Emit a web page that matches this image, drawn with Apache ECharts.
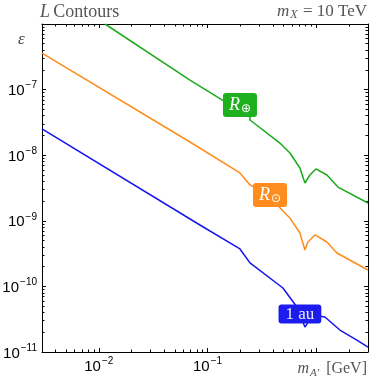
<!DOCTYPE html>
<html>
<head>
<meta charset="utf-8">
<script src="https://cdn.jsdelivr.net/npm/echarts@6/dist/echarts.min.js"></script>
<style>
html, body { margin: 0; padding: 0; background: #fff; }
#chart { width: 374px; height: 382px; }
</style>
</head>
<body>
<div id="chart"></div>
<script>
// R_earth contour
var earthX = [0.0114, 0.069, 0.246, 0.246, 0.464, 0.574, 0.709, 0.788, 0.876, 0.995, 1.256, 1.586, 3.0];
var earthY = [1e-6, 1.40e-7, 3.82e-8, 3.44e-8, 1.53e-8, 1.08e-8, 6.38e-9, 3.77e-9, 4.99e-9, 6.17e-9, 4.99e-9, 3.27e-9, 1.87e-9];
// R_sun contour
var sunX = [0.003, 0.069, 0.199, 0.246, 0.376, 0.484, 0.574, 0.709, 0.788, 0.840, 0.974, 1.256, 1.552, 3.0];
var sunY = [3.61e-7, 1.59e-8, 5.36e-9, 3.52e-9, 2.39e-9, 1.46e-9, 1.10e-9, 6.52e-10, 3.59e-10, 4.75e-10, 6.08e-10, 4.75e-10, 3.23e-10, 1.78e-10];
// 1 au contour
var auX = [0.003, 0.0852, 0.199, 0.246, 0.4945, 0.665, 0.788, 0.934, 1.204, 1.654, 2.371, 3.0];
var auY = [2.51e-8, 8.63e-10, 3.72e-10, 2.28e-10, 9.46e-11, 4.85e-11, 2.40e-11, 3.66e-11, 3.42e-11, 2.16e-11, 1.52e-11, 1.19e-11];

// tag labels on the curves
var tagText = ['{r|R}{s|⊕}', '{r|R}{s|⊙}', '{t|1 au}'];
var tagX = [0.199, 0.376, 0.709];
var tagY = [5.8e-8, 2.47e-9, 3.8e-11];

// tick labels
var xLabelVals = [0.01, 0.1];
var yLabelVals = [1e-11, 1e-10, 1e-9, 1e-8, 1e-7];
var xDecades = [0.001, 0.01, 0.1, 1];
var yDecades = [1e-12, 1e-11, 1e-10, 1e-9, 1e-8, 1e-7];

var colors = ['#1aaa1a', '#ff8c1a', '#1515f0'];
var tagColors = ['#1fb01f', '#ff8c1f', '#1c1cee'];

function minorTicks(decades, lo, hi) {
    var out = [];
    decades.forEach(function (d) {
        for (var k = 2; k <= 9; k++) {
            var v = k * d;
            if (v > lo * 1.0001 && v < hi * 0.9999) out.push(v);
        }
    });
    return out;
}
function majorTicks(decades, lo, hi) {
    return decades.filter(function (d) { return d > lo * 1.0001 && d < hi * 0.9999; });
}
function pairs(xs, ys) {
    return xs.map(function (x, i) { return [x, ys[i]]; });
}
function powLabel(v) {
    var e = Math.round(Math.log10(v));
    return '{b|10}{s|\u2212' + (-e) + '}';
}

var xMin = 0.003, xMax = 3, yMin = 1e-11, yMax = 1e-6;
var labelRich = {
    b: { fontFamily: 'Liberation Sans', fontSize: 15, color: '#000', lineHeight: 18, verticalAlign: 'bottom' },
    s: { fontFamily: 'Liberation Sans', fontSize: 10, color: '#000', lineHeight: 18, verticalAlign: 'top', padding: [0, 0, 0, 1] }
};

function makeAxis(kind, pos, major, showLine, showLabel) {
    var isX = kind === 'x';
    var lo = isX ? xMin : yMin, hi = isX ? xMax : yMax;
    var dec = isX ? xDecades : yDecades;
    return {
        type: 'log',
        logBase: 10,
        min: lo,
        max: hi,
        position: pos,
        axisLine: { show: showLine, lineStyle: { color: '#000', width: 1 } },
        axisTick: {
            show: true,
            inside: true,
            length: major ? 4 : 2.5,
            lineStyle: { color: '#000', width: 1 },
            customValues: major ? majorTicks(dec, lo, hi) : minorTicks(dec, lo, hi)
        },
        axisLabel: {
            show: showLabel,
            customValues: isX ? xLabelVals : yLabelVals,
            formatter: powLabel,
            rich: labelRich,
            margin: isX ? 4 : 5
        },
        splitLine: { show: false },
        minorTick: { show: false },
        axisPointer: { show: false }
    };
}

var chart = echarts.init(document.getElementById('chart'));

var option = {
    animation: false,
    grid: { left: 42, right: 6, top: 24, bottom: 30, containLabel: false, outerBoundsMode: 'none' },
    xAxis: [
        makeAxis('x', 'bottom', true, true, true),
        makeAxis('x', 'bottom', false, false, false),
        makeAxis('x', 'top', true, true, false),
        makeAxis('x', 'top', false, false, false)
    ],
    yAxis: [
        makeAxis('y', 'left', true, true, true),
        makeAxis('y', 'left', false, false, false),
        makeAxis('y', 'right', true, true, false),
        makeAxis('y', 'right', false, false, false)
    ],
    graphic: [
        {
            type: 'text', left: 40, top: 3,
            style: {
                text: '{i|L} {n|Contours}',
                rich: {
                    i: { fontFamily: 'Liberation Serif', fontStyle: 'italic', fontSize: 18, fill: '#555' },
                    n: { fontFamily: 'Liberation Serif', fontSize: 18, fill: '#555' }
                }
            }
        },
        {
            type: 'text', right: 7, top: 3,
            style: {
                text: '{i|m}{sub|X}{n| = 10 TeV}',
                rich: {
                    i: { fontFamily: 'Liberation Serif', fontStyle: 'italic', fontSize: 17, fill: '#555', lineHeight: 19 },
                    sub: { fontFamily: 'Liberation Serif', fontStyle: 'italic', fontSize: 12, fill: '#555', lineHeight: 19, verticalAlign: 'bottom', padding: [0, 1, 0, 1] },
                    n: { fontFamily: 'Liberation Serif', fontSize: 17, fill: '#555', lineHeight: 19 }
                }
            }
        },
        {
            type: 'text', left: 18, top: 31,
            style: { text: '\u03b5', font: 'italic 17px "Liberation Serif"', fill: '#444' }
        },
        {
            type: 'text', right: 7, top: 361,
            style: {
                text: '{i|m}{sub|A\u2032}{n| [GeV]}',
                rich: {
                    i: { fontFamily: 'Liberation Serif', fontStyle: 'italic', fontSize: 16, fill: '#555', lineHeight: 19 },
                    sub: { fontFamily: 'Liberation Serif', fontStyle: 'italic', fontSize: 11, fill: '#555', lineHeight: 19, verticalAlign: 'bottom', padding: [0, 3, 0, 1] },
                    n: { fontFamily: 'Liberation Serif', fontSize: 16, fill: '#555', lineHeight: 19 }
                }
            }
        }
    ],
    series: [
        { type: 'line', name: 'earth', data: pairs(earthX, earthY), symbol: 'none', lineStyle: { color: colors[0], width: 1.5 }, z: 2 },
        { type: 'line', name: 'sun', data: pairs(sunX, sunY), symbol: 'none', lineStyle: { color: colors[1], width: 1.5 }, z: 2 },
        { type: 'line', name: 'au', data: pairs(auX, auY), symbol: 'none', lineStyle: { color: colors[2], width: 1.5 }, z: 2 },
        {
            type: 'scatter',
            symbolSize: 0,
            z: 5,
            itemStyle: { opacity: 1 },
            data: tagX.map(function (x, i) {
                return {
                    value: [x, tagY[i]],
                    label: {
                        backgroundColor: tagColors[i],
                        formatter: tagText[i],
                        padding: i === 2 ? [2, 7, 1, 7] : [3, 6, 2, 6]
                    }
                };
            }),
            label: {
                show: true,
                position: 'inside',
                borderRadius: 3,
                rich: {
                    r: { fontFamily: 'Liberation Serif', fontStyle: 'italic', fontSize: 18, color: '#fff', lineHeight: 19 },
                    s: { fontFamily: 'DejaVu Sans', fontSize: 12, color: '#fff', lineHeight: 19, verticalAlign: 'bottom', padding: [0, 0, 0, 1] },
                    t: { fontFamily: 'Liberation Serif', fontSize: 17, color: '#eee', lineHeight: 16 }
                }
            }
        }
    ]
};

chart.setOption(option);
</script>
</body>
</html>
